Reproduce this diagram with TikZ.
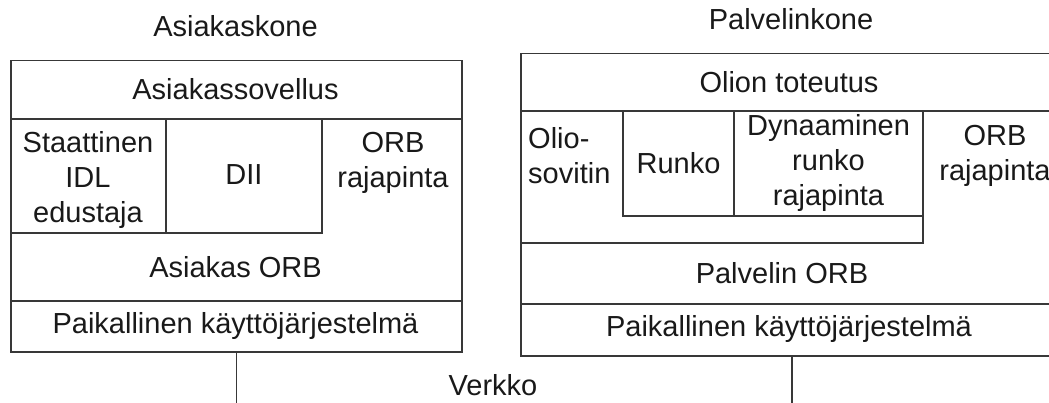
\documentclass[tikz,border=0pt]{standalone}
\usepackage{fontspec}
\setmainfont{Liberation Sans}
\begin{document}
\begin{tikzpicture}[x=1pt,y=-1pt,
  frame/.style={draw=black!78, line width=1.5pt},
  box/.style={frame, rectangle, inner sep=0pt, anchor=north west},
  lbl/.style={font=\fontsize{29}{35}\selectfont, align=center, inner sep=0pt, text=black!90},
]
\useasboundingbox (0,0) rectangle (1049,403);

% ---- client side ----
\node[box, minimum width=451pt, minimum height=291pt] (client) at (10,60) {};
\draw[frame] (10,119) -- (461,119);
\draw[frame] (166,119) -- (166,233);
\draw[frame] (10,233) -- (322,233) -- (322,119);
\draw[frame] (10,301) -- (461,301);

\node[lbl] (ctitle) at (235.5,26) {Asiakaskone};
\node[lbl] (capp)   at (235.5,89) {Asiakassovellus};
\node[lbl] (cstub)  at (88,180)   {Staattinen\\IDL\\edustaja};
\node[lbl] (cdii)   at (244,175)  {DII};
\node[lbl] (corbif) at (393,162.5) {ORB\\rajapinta};
\node[lbl] (corb)   at (235.5,267) {Asiakas ORB};
\node[lbl] (cos)    at (235.5,326) {Paikallinen käyttöjärjestelmä};

% ---- server side ----
\node[box, minimum width=542pt, minimum height=302pt] (server) at (520,53) {};
\draw[frame] (520,111) -- (1062,111);
\draw[frame] (623,111) rectangle (923,216);
\draw[frame] (734,111) -- (734,216);
\draw[frame] (520,243) -- (923,243) -- (923,111);
\draw[frame] (520,304) -- (1062,304);

\node[lbl] (stitle) at (791,19)  {Palvelinkone};
\node[lbl] (simpl)  at (789,82)  {Olion toteutus};
\node[lbl, align=left, anchor=west] (sadapt) at (528,156) {Olio-\\sovitin};
\node[lbl] (sskel)  at (678.5,163) {Runko};
\node[lbl] (sdsi)   at (828.5,163) {Dynaaminen\\runko\\rajapinta};
\node[lbl] (sorbif) at (995,155.5) {ORB\\rajapinta};
\node[lbl] (sorb)   at (782,273) {Palvelin ORB};
\node[lbl] (sos)    at (789,329) {Paikallinen käyttöjärjestelmä};

% ---- network ----
\node[lbl] (net) at (493,385) {Verkko};
\coordinate (cnet) at (client.south |- 0,403);
\coordinate (snet) at (server.south |- 0,403);
\draw[frame] (client.south) -- (cnet);
\draw[frame] (server.south) -- (snet);
\end{tikzpicture}
\end{document}
